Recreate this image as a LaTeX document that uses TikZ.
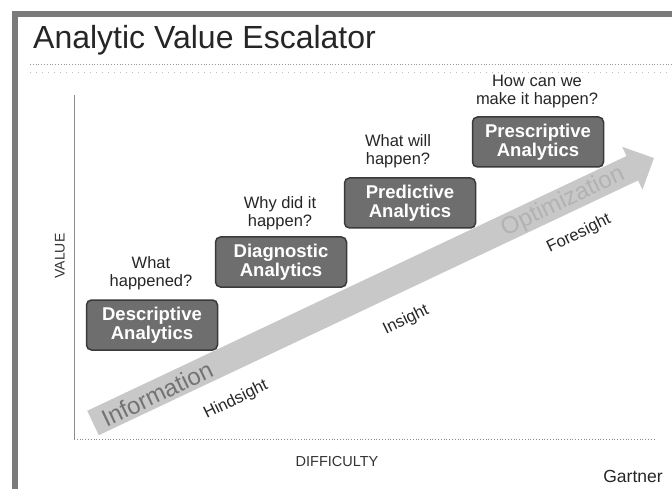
\documentclass[tikz,border=0pt]{standalone}
\usepackage{fontspec}
\setmainfont{Liberation Sans}
\usetikzlibrary{arrows.meta}
\definecolor{boxfill}{HTML}{6E6E6E}
\definecolor{boxedge}{HTML}{3A3A3A}
\definecolor{arrowfill}{HTML}{C8C8C8}
\definecolor{framegray}{HTML}{7A7A7A}
\tikzset{
  stagebox/.style={draw=boxedge, line width=1.5pt, fill=boxfill, rounded corners=5pt,
    minimum width=131pt, minimum height=50pt, align=center, text=white,
    font=\fontsize{18.5}{19}\selectfont\bfseries, inner sep=1pt},
  question/.style={align=center, font=\fontsize{16.5}{18}\selectfont, text=black!85},
  sight/.style={font=\fontsize{16.5}{17}\selectfont, text=black!85, rotate=26},
  arrowlabel/.style={font=\fontsize{24}{24}\selectfont, rotate=25.5},
  axisline/.style={draw=black!45, line width=0.8pt}
}
\begin{document}
\begin{tikzpicture}[x=1pt,y=-1pt]
\useasboundingbox (0,0) rectangle (672,489);
\fill[white] (0,0) rectangle (672,489);
% frame strips
\fill[framegray] (12,11) rectangle (672,17);
\fill[framegray] (12,11) rectangle (18,489);
% title
\node[anchor=base west, font=\fontsize{32}{32}\selectfont, text=black!85, inner sep=0] (title) at (33,49) {Analytic Value Escalator};
\draw[black!40, line width=0.8pt, dotted] (30,64) -- (672,64);
\draw[black!25, line width=0.8pt, dash pattern=on 1pt off 5pt] (30,72) -- (672,72);
% axes
\coordinate (origin) at (74,439);
\coordinate (ytop) at (74,95);
\coordinate (xend) at (655,439);
\draw[axisline] (origin) -- (ytop);
\draw[axisline, dotted] (origin) -- (xend);
\node[rotate=90, font=\fontsize{14}{14}\selectfont, text=black!80] (value) at (60,256) {VALUE};
\node[font=\fontsize{14.5}{14}\selectfont, text=black!80] (difficulty) at (337,462) {DIFFICULTY};
\node[font=\fontsize{17.5}{17}\selectfont, text=black!85] (gartner) at (633,476) {Gartner};
% big arrow
\coordinate (astart) at (93,423);
\coordinate (aend) at (654,158);
\draw[arrowfill, line width=27pt, -{Triangle[length=24pt, width=46pt]}] (astart) -- (aend);
\node[arrowlabel, text=black!55] (info) at (157,394) {Information};
\node[arrowlabel, text=black!30] (opt) at (563,202) {Optimization};
% sight labels
\node[sight] (hind) at (236,400) {Hindsight};
\node[sight] (ins) at (406,320) {Insight};
\node[sight] (fore) at (579,234) {Foresight};
% boxes
\node[stagebox] (desc) at (152,325) {Descriptive\\Analytics};
\node[stagebox] (diag) at (281,262) {Diagnostic\\Analytics};
\node[stagebox] (pred) at (410,203) {Predictive\\Analytics};
\node[stagebox] (presc) at (538,142) {Prescriptive\\Analytics};
% questions
\node[question] (q1) at (151,273) {What\\happened?};
\node[question] (q2) at (280,213) {Why did it\\happen?};
\node[question] (q3) at (398,151) {What will\\happen?};
\node[question] (q4) at (537,92) {How can we\\make it happen?};
\end{tikzpicture}
\end{document}
